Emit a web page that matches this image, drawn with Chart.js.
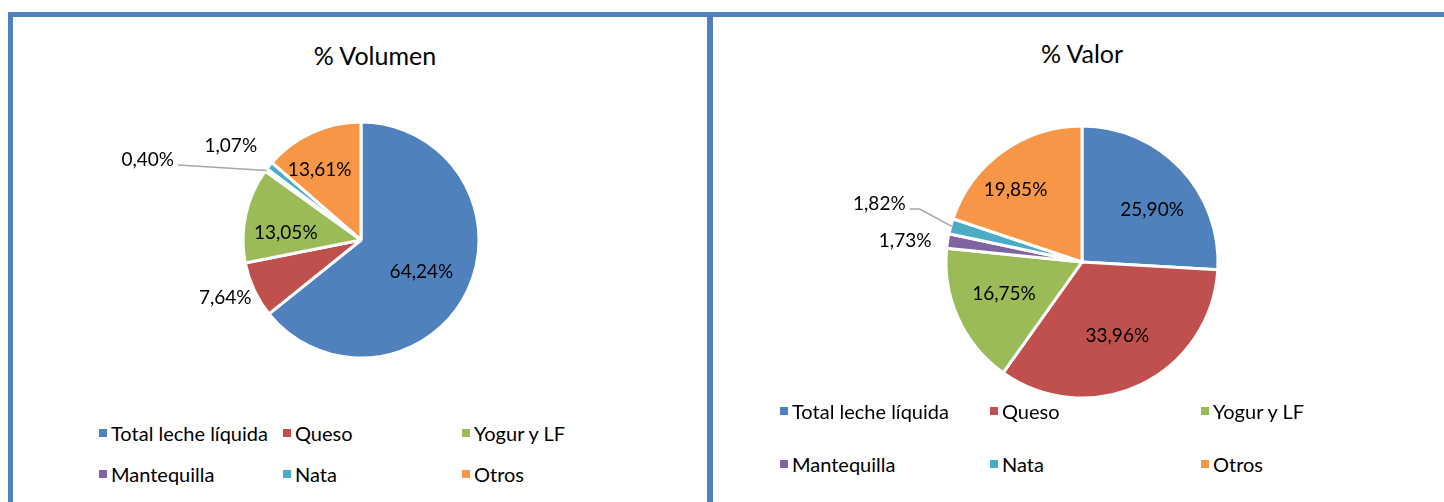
<!DOCTYPE html>
<html>
<head>
<meta charset="utf-8">
<script src="https://cdn.jsdelivr.net/npm/chart.js@4/dist/chart.umd.min.js"></script>
<style>
  html, body { margin: 0; padding: 0; background: #fff; }
  body { width: 1444px; height: 502px; position: relative; overflow: hidden; font-family: Lato, "Open Sans", sans-serif; color: #000; }
  .frame { position: absolute; border: 5px solid #4F81BD; box-sizing: border-box; }
  .title { position: absolute; font-size: 25px; transform: translate(-50%, -50%); white-space: nowrap; }
  canvas { position: absolute; }
  .lg { position: absolute; font-size: 20px; white-space: nowrap; transform: translateY(-50%); display: flex; align-items: center; }
  .lg span.sw { display: inline-block; width: 8px; height: 8px; margin-right: 4px; }
</style>
</head>
<body>
<div class="frame" style="left:8px; top:12px; width:704px; height:520px;"></div>
<div class="frame" style="left:708px; top:12px; width:760px; height:520px;"></div>
<div class="title" id="t1" style="left:375px; top:55px;"></div>
<div class="title" id="t2" style="left:1082px; top:53px;"></div>
<canvas id="c1" width="560" height="300" style="left:81px; top:90px;"></canvas>
<canvas id="c2" width="560" height="300" style="left:802px; top:112px;"></canvas>
<div id="legends"></div>
<script>
// ---- data ----
const categories = ["Total leche líquida", "Queso", "Yogur y LF", "Mantequilla", "Nata", "Otros"];
const volumenValues = [64.24, 7.64, 13.05, 0.40, 1.07, 13.61];
const valorValues = [25.90, 33.96, 16.75, 1.73, 1.82, 19.85];
const titleVolumen = "% Volumen";
const titleValor = "% Valor";

// ---- styles ----
const colors = ["#4F81BD", "#C0504D", "#9BBB59", "#8064A2", "#4BACC6", "#F79646"];

document.getElementById('t1').textContent = titleVolumen;
document.getElementById('t2').textContent = titleValor;

const fmt = v => v.toFixed(2).replace('.', ',') + '%';

// label placement: [angle offset deg from slice middle, radius factor, leader?]
const place1 = [[2.4, 0.58], [2, 1.25], [-7, 0.64], [-15.9, 1.93, true], [-3.3, 1.36], [-6, 0.69]];
const place2 = [[7, 0.64], [0, 0.6], [2, 0.62], [-2, 1.31], [0.7, 1.55, true], [-7, 0.72]];

const labelPlugin = {
  id: 'pieLabels',
  afterDatasetsDraw(chart, args, opts) {
    const ctx = chart.ctx;
    const meta = chart.getDatasetMeta(0);
    const data = chart.data.datasets[0].data;
    ctx.save();
    ctx.font = '19px Lato, "Open Sans", sans-serif';
    ctx.fillStyle = '#000';
    ctx.textAlign = 'center';
    ctx.textBaseline = 'middle';
    meta.data.forEach((arc, i) => {
      const p = arc.getProps(['x', 'y', 'startAngle', 'endAngle', 'outerRadius'], true);
      const mid = (p.startAngle + p.endAngle) / 2;
      const pl = opts.place[i];
      const a = mid + pl[0] * Math.PI / 180;
      const r = p.outerRadius * pl[1];
      const tx = p.x + Math.cos(a) * r;
      const ty = p.y + Math.sin(a) * r;
      const txt = fmt(data[i]);
      ctx.fillText(txt, tx, ty);
      if (pl[2]) {
        const w = ctx.measureText(txt).width;
        const ex = p.x + Math.cos(mid) * (p.outerRadius - 1);
        const ey = p.y + Math.sin(mid) * (p.outerRadius - 1);
        const sx = tx + w / 2 + 4;
        const sy = ty + opts.leaderDy;
        ctx.strokeStyle = '#A6A6A6';
        ctx.lineWidth = 1.5;
        ctx.beginPath();
        ctx.moveTo(sx, sy);
        ctx.lineTo(sx + opts.leaderH, sy);
        ctx.lineTo(ex, ey);
        ctx.stroke();
      }
    });
    ctx.restore();
  }
};

function makePie(id, values, radius, place, leaderH, leaderDy) {
  new Chart(document.getElementById(id), {
    type: 'pie',
    data: {
      labels: categories,
      datasets: [{
        data: values,
        backgroundColor: colors,
        borderColor: '#FFFFFF',
        borderWidth: 3
      }]
    },
    options: {
      responsive: false,
      animation: false,
      devicePixelRatio: 1,
      radius: radius,
      layout: { padding: 0 },
      plugins: {
        legend: { display: false },
        title: { display: false },
        tooltip: { enabled: false },
        pieLabels: { place: place, leaderH: leaderH, leaderDy: leaderDy }
      }
    },
    plugins: [labelPlugin]
  });
}

makePie('c1', volumenValues, 118, place1, 0, 5);
makePie('c2', valorValues, 136, place2, 10, 5);

// ---- legends (HTML, built from categories & colors) ----
function makeLegend(cols, rows) {
  const host = document.getElementById('legends');
  categories.forEach((c, i) => {
    const d = document.createElement('div');
    d.className = 'lg';
    d.style.left = cols[i % 3] + 'px';
    d.style.top = rows[Math.floor(i / 3)] + 'px';
    const s = document.createElement('span');
    s.className = 'sw';
    s.style.background = colors[i];
    d.appendChild(s);
    d.appendChild(document.createTextNode(c));
    host.appendChild(d);
  });
}
makeLegend([99, 283, 462], [433, 474]);
makeLegend([780, 990, 1201], [411, 464]);
</script>
</body>
</html>
